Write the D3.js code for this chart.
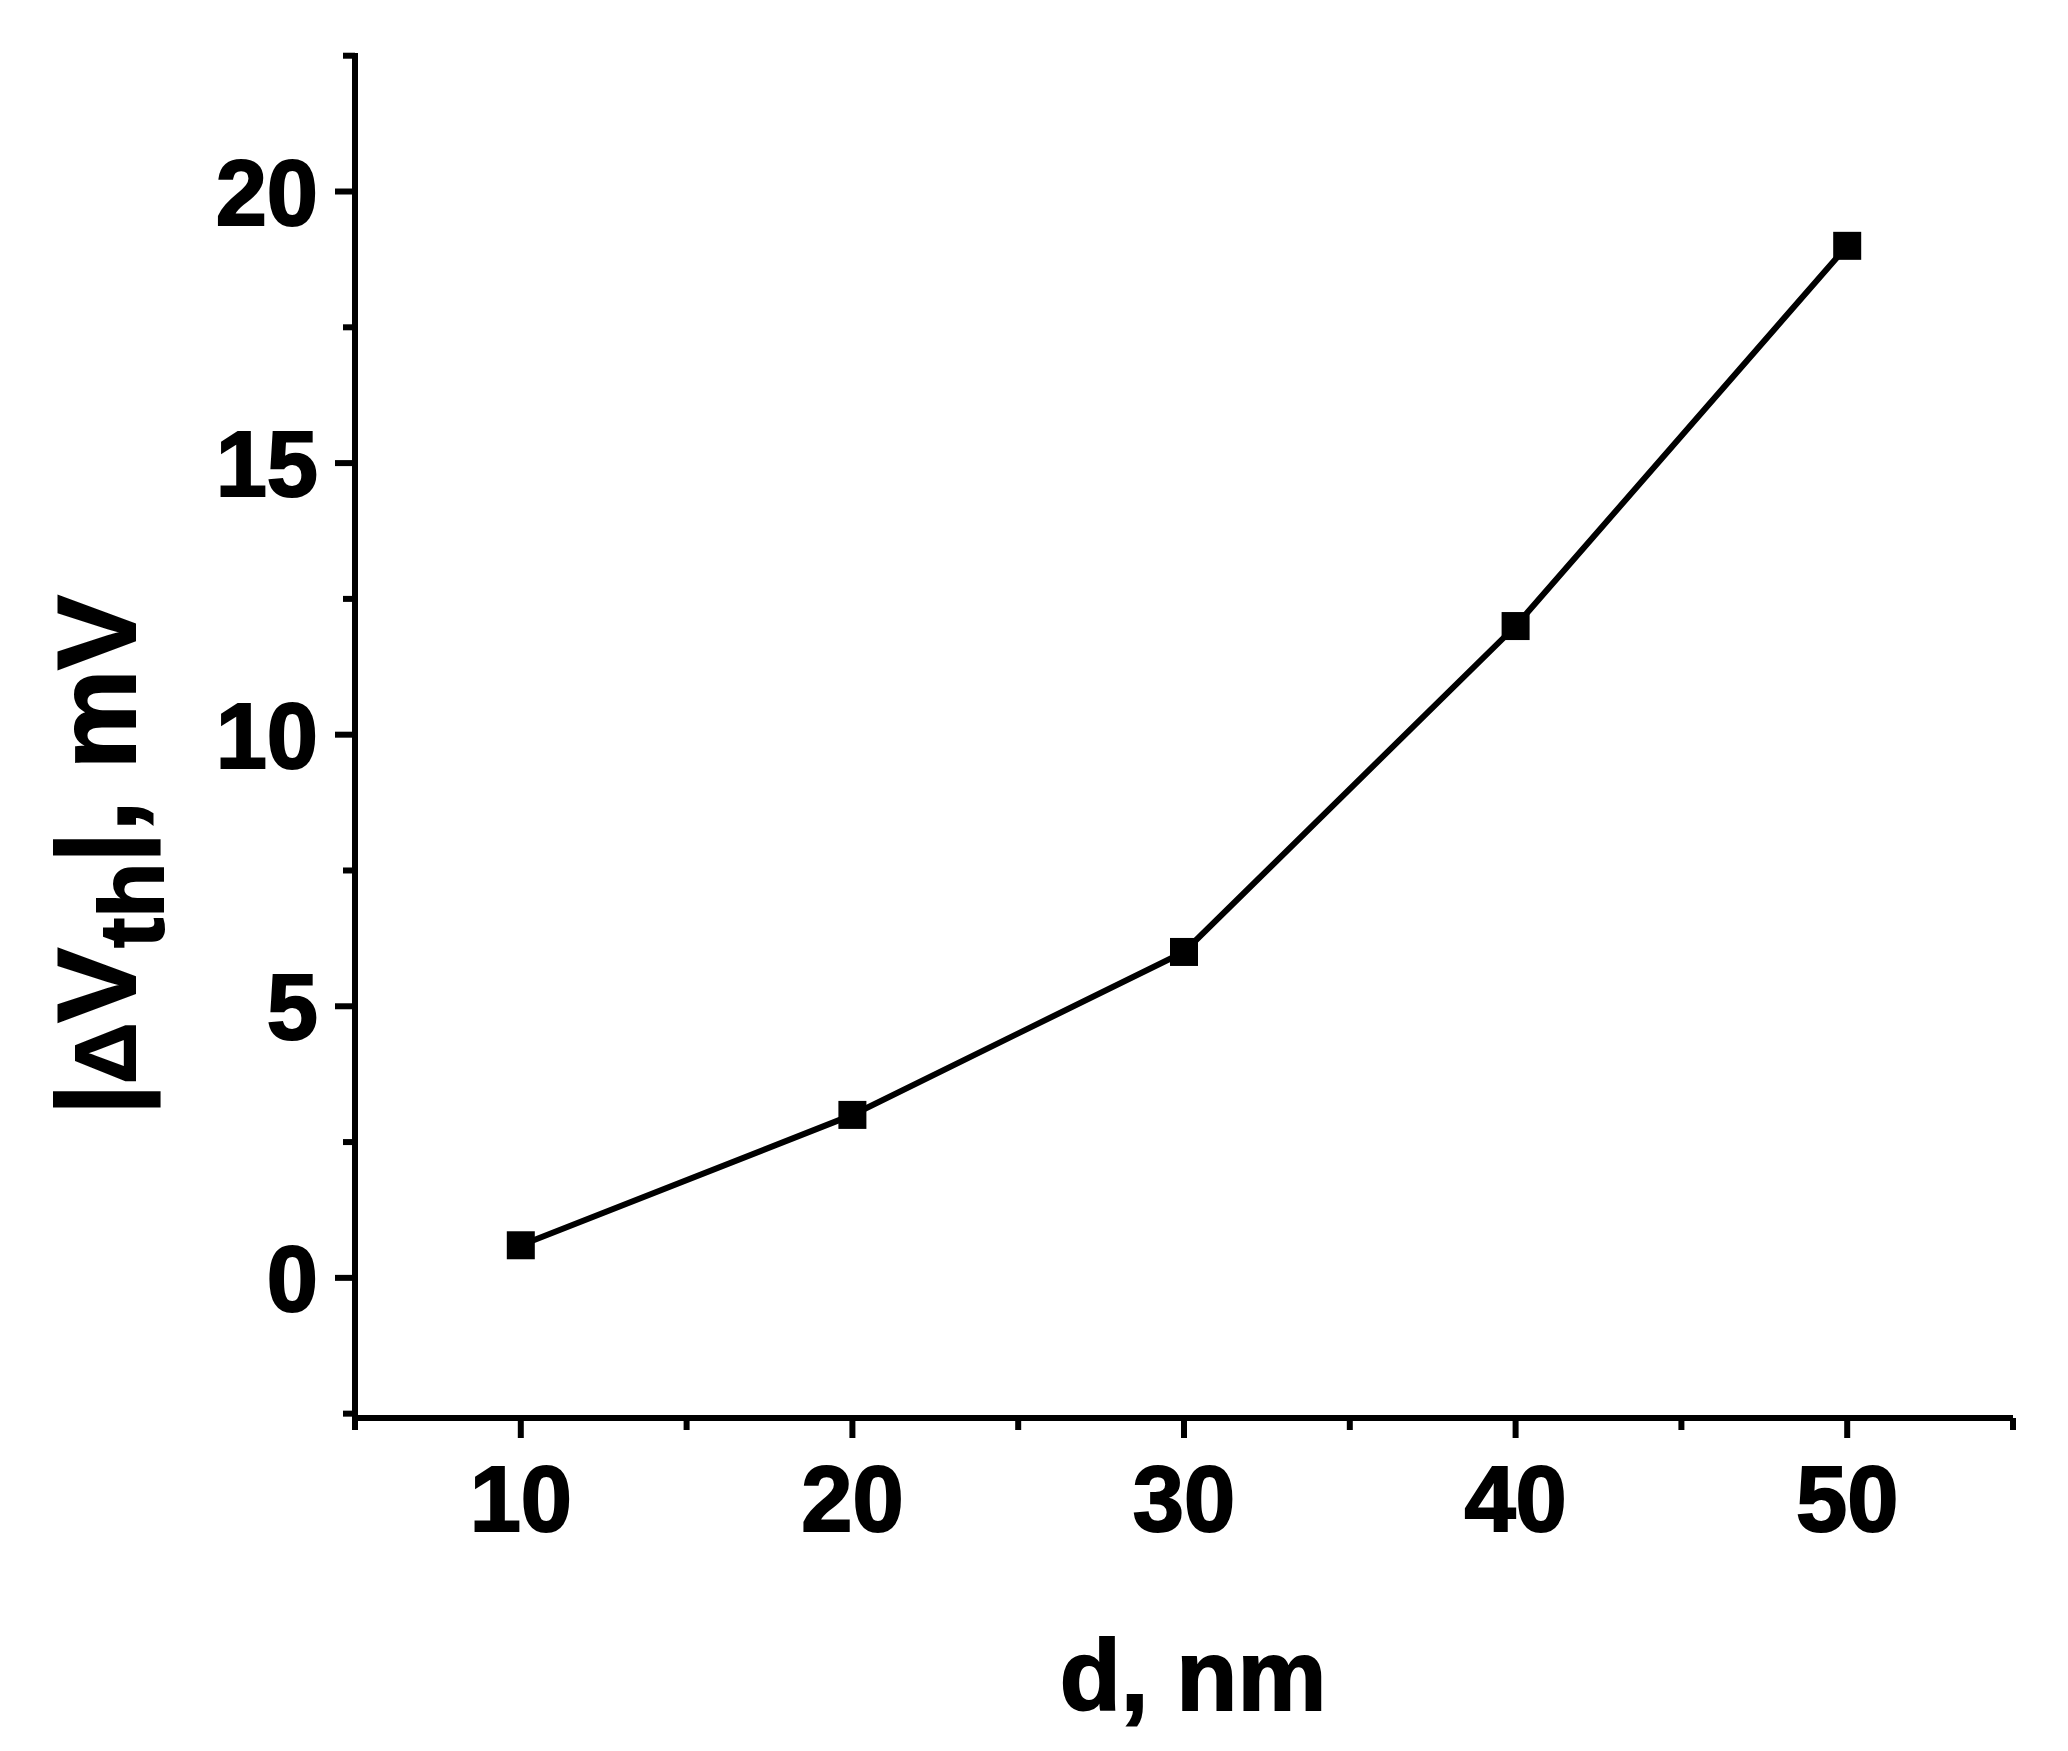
<!DOCTYPE html>
<html><head><meta charset="utf-8">
<script src="https://cdn.jsdelivr.net/npm/d3@7"></script>
<style>body{margin:0;background:#fff}text{font-family:Arial,"Liberation Sans",sans-serif;font-weight:bold}</style>
</head><body>
<svg id="c" width="2068" height="1751"></svg>
<script>
const xValues=[10,20,30,40,50];
const yValues=[0.6,3.0,6.0,12.0,19.0];
const xTicks=[10,20,30,40,50];
const yTicks=[0,5,10,15,20];
const svg=d3.select("#c");
const L=355,R=2013,T=53,B=1418;
const x=d3.scaleLinear().domain([5,55]).range([L,R]);
const y=d3.scaleLinear().domain([-2.58,22.55]).range([B,T]);
const g=svg.append("g");
g.append("line").attr("x1",L).attr("x2",L).attr("y1",T).attr("y2",B+3).attr("stroke","#000").attr("stroke-width",6);
g.append("line").attr("x1",L-3).attr("x2",R).attr("y1",B).attr("y2",B).attr("stroke","#000").attr("stroke-width",6);
const yMinor=d3.range(-2.5,22.6,2.5);
yMinor.forEach(v=>{const maj=yTicks.includes(v);g.append("line").attr("x1",L).attr("x2",L-(maj?20:12)).attr("y1",y(v)).attr("y2",y(v)).attr("stroke","#000").attr("stroke-width",6);});
yTicks.forEach(v=>g.append("text").attr("x",318).attr("y",y(v)).attr("dy","0.36em").attr("text-anchor","end").attr("font-size",92).attr("stroke","#000").attr("stroke-width",2).text(v));
const xMinor=d3.range(5,55.1,5);
xMinor.forEach(v=>{const maj=xTicks.includes(v);g.append("line").attr("x1",x(v)).attr("x2",x(v)).attr("y1",B).attr("y2",B+(maj?20:12)).attr("stroke","#000").attr("stroke-width",6);});
xTicks.forEach(v=>g.append("text").attr("x",x(v)).attr("y",1531).attr("text-anchor","middle").attr("font-size",92).attr("stroke","#000").attr("stroke-width",2).text(v));
svg.append("text").attr("x",1193).attr("y",1710).attr("text-anchor","middle").attr("font-size",100).attr("stroke","#000").attr("stroke-width",2).text("d, nm");
const yl=svg.append("text").attr("transform","translate(135,855) rotate(-90)").attr("text-anchor","middle").attr("font-size",112).attr("stroke","#000").attr("stroke-width",2);
yl.append("tspan").text("|");
yl.append("tspan").attr("font-size",85).text("Δ");
yl.append("tspan").text("V");
yl.append("tspan").attr("dy",28).attr("font-size",90).text("th");
yl.append("tspan").attr("dy",-28).text("|, mV");
const data=xValues.map((v,i)=>[v,yValues[i]]);
g.append("path").datum(data).attr("fill","none").attr("stroke","#000").attr("stroke-width",6)
 .attr("d",d3.line().x(d=>x(d[0])).y(d=>y(d[1])));
g.selectAll("rect.m").data(data).enter().append("rect").attr("x",d=>x(d[0])-14).attr("y",d=>y(d[1])-14).attr("width",28).attr("height",28).attr("fill","#000");
</script>
</body></html>
